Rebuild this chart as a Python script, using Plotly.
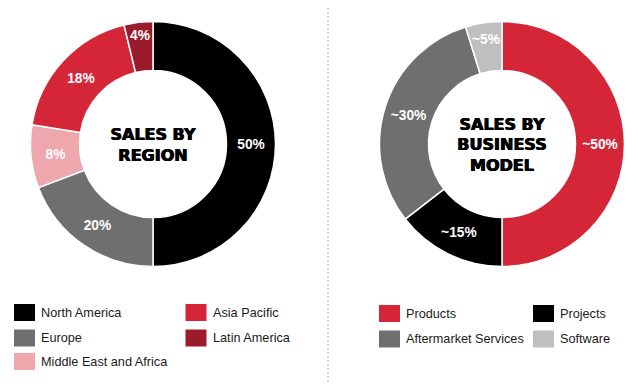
import plotly.graph_objects as go

# The page body keeps an 8px margin, so the figure is made 8px smaller and
# positions below are given in window pixels, shifted by that offset.
OFF = 8
W, H = 639 - OFF, 391 - OFF

# Data (slice sizes; labels as printed)
region_labels = ["North America", "Europe", "Middle East and Africa", "Asia Pacific", "Latin America"]
region_values = [50, 19.2, 8.3, 18.7, 3.8]
region_text = ["50%", "20%", "8%", "18%", "4%"]
region_colors = ["#000000", "#6f6f6f", "#eea7ad", "#d52638", "#9b1a2b"]

model_labels = ["Products", "Projects", "Aftermarket Services", "Software"]
model_values = [50, 14.5, 30.7, 4.8]
model_text = ["~50%", "~15%", "~30%", "~5%"]
model_colors = ["#d52638", "#000000", "#6f6f6f", "#bfbfbf"]

# legend layout (column-major order)
region_legend_cols = [[0, 1, 2], [3, 4]]
model_legend_cols = [[0, 2], [1, 3]]


def px_x(x):
    return (x - OFF) / W


def px_y(y):
    return 1 - (y - OFF) / H


def donut(labels, values, text, colors, cx, cy, r, title):
    return go.Pie(
        labels=labels, values=values, text=text,
        textinfo="text", textposition="inside",
        insidetextorientation="horizontal",
        textfont=dict(family="Liberation Sans, Arial, sans-serif", size=15, color="white", weight="bold"),
        marker=dict(colors=colors, line=dict(color="white", width=1.5)),
        hole=0.6, sort=False, direction="clockwise", rotation=0,
        showlegend=False, hoverinfo="label+percent",
        domain=dict(x=[px_x(cx - r), px_x(cx + r)], y=[px_y(cy + r), px_y(cy - r)]),
        title=dict(text=title, position="middle center",
                   font=dict(family="DejaVu Sans, sans-serif", size=16, color="black", weight="bold",
                             shadow="0.5px 0 0 #000, -0.5px 0 0 #000")),
    )


fig = go.Figure()
fig.add_trace(donut(region_labels, region_values, region_text, region_colors, 153, 144, 122.5,
                    "SALES BY<br>REGION"))
fig.add_trace(donut(model_labels, model_values, model_text, model_colors, 502, 144, 122.5,
                    "SALES BY<br>BUSINESS<br>MODEL"))

shapes = []
annotations = []


def add_legend(labels, colors, cols, col_x, row_y):
    for ci, col in enumerate(cols):
        for ri, idx in enumerate(col):
            x0 = col_x[ci]
            yc = row_y[ri]
            shapes.append(dict(type="rect", xref="paper", yref="paper",
                               x0=px_x(x0), x1=px_x(x0 + 21),
                               y0=px_y(yc + 8.5), y1=px_y(yc - 8.5),
                               fillcolor=colors[idx], line=dict(width=0)))
            annotations.append(dict(xref="paper", yref="paper", x=px_x(x0 + 25), y=px_y(yc),
                                    text=labels[idx], showarrow=False, xanchor="left", yanchor="middle",
                                    font=dict(family="Liberation Sans, Arial, sans-serif", size=12.7,
                                              color="#1a1a1a")))


add_legend(region_labels, region_colors, region_legend_cols, [14, 185.5], [312.5, 338, 361.5])
add_legend(model_labels, model_colors, model_legend_cols, [379, 533], [313.5, 339])

shapes.append(dict(type="line", xref="paper", yref="paper", x0=px_x(328), x1=px_x(328),
                   y0=px_y(0), y1=px_y(382), line=dict(color="#a8a8a8", width=1, dash="2px,2px")))

fig.update_layout(
    width=W, height=H, margin=dict(l=0, r=0, t=0, b=0),
    paper_bgcolor="white", plot_bgcolor="white",
    shapes=shapes, annotations=annotations,
    uniformtext=dict(minsize=13, mode="show"),
)

fig.write_html("out.html")
